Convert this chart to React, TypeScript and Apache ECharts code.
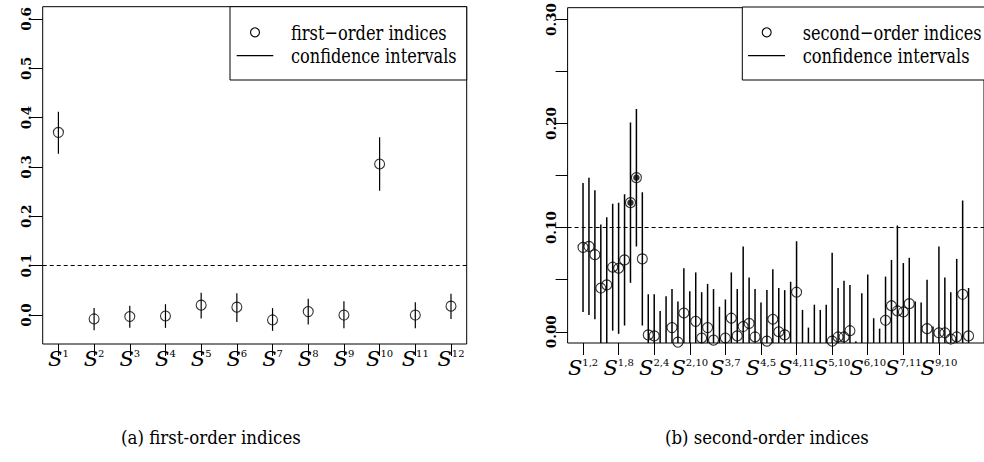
import React, { useEffect, useRef } from "react";
import * as echarts from "echarts";

// ---------- data ----------
const firstCategories = [1, 2, 3, 4, 5, 6, 7, 8, 9, 10, 11, 12];
const firstTickLabels = ["1", "2", "3", "4", "5", "6", "7", "8", "9", "10", "11", "12"];
const firstValues = [0.370, -0.008, -0.003, -0.002, 0.020, 0.016, -0.010, 0.007, 0.000, 0.306, 0.000, 0.018];
const firstLower = [0.327, -0.031, -0.026, -0.026, -0.007, -0.014, -0.032, -0.019, -0.027, 0.252, -0.027, -0.008];
const firstUpper = [0.412, 0.014, 0.019, 0.022, 0.045, 0.044, 0.014, 0.033, 0.028, 0.360, 0.026, 0.043];
const firstYTicks = [0, 0.1, 0.2, 0.3, 0.4, 0.5, 0.6];

const secondValues = [
  0.081, 0.082, 0.074, 0.042, 0.045, 0.062, 0.061, 0.069, 0.124, 0.148, 0.070,
  -0.003, -0.004, -0.020, -0.011, 0.004, -0.010, 0.018, -0.020, 0.010, -0.006,
  0.004, -0.008, -0.020, -0.006, 0.013, -0.004, 0.005, 0.008, -0.005,
  -0.020, -0.009, 0.012, 0.000, -0.003, -0.020, 0.038, -0.020,
  -0.030, -0.020, -0.020, -0.020, -0.009, -0.005, -0.005,
  0.001, -0.030, -0.012, -0.020, -0.020, -0.020,
  0.011, 0.025, 0.020, 0.019, 0.027,
  -0.016, -0.020, 0.003, -0.020,
  -0.001, -0.001, -0.007,
  -0.005, 0.036,
  -0.004,
];
const secondUpper = [
  0.143, 0.148, 0.136, 0.103, 0.110, 0.123, 0.124, 0.132, 0.201, 0.214, 0.134,
  0.036, 0.036, 0.020, 0.034, 0.041, 0.029, 0.061, 0.039, 0.057, 0.038,
  0.046, 0.041, 0.024, 0.031, 0.057, 0.041, 0.082, 0.052, 0.041,
  0.028, 0.040, 0.060, 0.042, 0.040, 0.048, 0.087, 0.021,
  0.004, 0.026, 0.021, 0.026, 0.076, 0.042, 0.049,
  0.045, -0.009, 0.037, 0.055, 0.013, 0.003,
  0.053, 0.069, 0.102, 0.066, 0.071,
  0.029, 0.028, 0.050, 0.005,
  0.082, 0.052, 0.038,
  0.070, 0.126,
  0.042,
];
const secondLower = [
  0.019, 0.016, 0.012, -0.019, -0.020, 0.001, -0.002, 0.006, 0.047, 0.082, 0.006,
  -0.042, -0.044, -0.060, -0.056, -0.033, -0.049, -0.025, -0.079, -0.037, -0.050,
  -0.038, -0.057, -0.064, -0.043, -0.031, -0.049, -0.072, -0.036, -0.051,
  -0.068, -0.058, -0.036, -0.042, -0.046, -0.088, -0.011, -0.061,
  -0.064, -0.066, -0.061, -0.066, -0.094, -0.052, -0.059,
  -0.043, -0.051, -0.061, -0.095, -0.053, -0.043,
  -0.031, -0.019, -0.062, -0.028, -0.017,
  -0.061, -0.068, -0.044, -0.045,
  -0.084, -0.054, -0.052,
  -0.080, -0.054,
  -0.050,
];
const secondHighlighted = [9, 10];
const secondTickPositions = [1, 7, 13, 19, 25, 31, 37, 43, 49, 55, 61];
const secondTickLabels = ["1,2", "1,8", "2,4", "2,10", "3,7", "4,5", "4,11", "5,10", "6,10", "7,11", "9,10"];
const secondYTicks = [0, 0.05, 0.1, 0.15, 0.2, 0.25, 0.3];
const secondYLabels = [0, 0.1, 0.2, 0.3];
const threshold = 0.1;

const SERIF = "DejaVu Serif";

function errorBar(width: number) {
  return (params: any, api: any) => {
    const x = api.value(0);
    const p1 = api.coord([x, api.value(1)]);
    const p2 = api.coord([x, api.value(2)]);
    return {
      type: "line",
      shape: { x1: p1[0], y1: p1[1], x2: p2[0], y2: p2[1] },
      style: { stroke: "#000", lineWidth: width },
    };
  };
}

const hollow = { color: "rgba(0,0,0,0)", borderColor: "#000", borderWidth: 1.1 };

function dashed() {
  return {
    silent: true,
    symbol: ["none", "none"],
    label: { show: false },
    lineStyle: { type: [4, 3], color: "#000", width: 1 },
    data: [{ yAxis: threshold }],
  };
}

let measureCtx: CanvasRenderingContext2D | null = null;
function fitScale(text: string, size: number, target: number) {
  if (!measureCtx) measureCtx = document.createElement("canvas").getContext("2d");
  if (!measureCtx) return 1;
  measureCtx.font = `${size}px "${SERIF}"`;
  const w = measureCtx.measureText(text).width;
  return w > 0 ? target / w : 1;
}

function fittedText(text: string, x: number, y: number, size: number, target: number, z = 11) {
  return {
    type: "text", x, y, z, scaleX: fitScale(text, size, target),
    style: { text, fontFamily: SERIF, fontSize: size, fill: "#000", align: "left", verticalAlign: "middle" },
  };
}

const xRich = {
  s: { fontFamily: SERIF, fontStyle: "italic", fontSize: 21, lineHeight: 22, color: "#000" },
  p: { fontFamily: SERIF, fontSize: 10, lineHeight: 10, verticalAlign: "top", color: "#000" },
};

// An x axis showing the given tick positions with S-superscript labels
function xAxisPart(gridIndex: number, min: number, max: number, values: number[], allPos: number[], allLabels: string[], margin: number) {
  return {
    type: "value", gridIndex, min, max, position: "bottom",
    axisLine: { show: false, onZero: false }, splitLine: { show: false },
    axisTick: { show: true, length: 12, customValues: values, lineStyle: { color: "#000" } },
    axisLabel: {
      customValues: values, margin,
      formatter: (v: number) => `{s|S}{p|${allLabels[allPos.indexOf(Math.round(v))]}}`,
      rich: xRich,
    },
  };
}

export default function App() {
  const ref = useRef<HTMLDivElement>(null);
  useEffect(() => {
    if (!ref.current) return;
    const chart = echarts.init(ref.current, null, { renderer: "svg" });
    const yLabel = {
      rotate: 90,
      fontFamily: SERIF,
      fontWeight: "bold",
      fontSize: 13.5,
      color: "#000",
      margin: 10,
    };
    const secondOdd = secondTickPositions.filter((_, i) => i % 2 === 0);
    const secondEven = secondTickPositions.filter((_, i) => i % 2 === 1);
    const option: any = {
      animation: false,
      grid: [
        { left: 42.7, top: 6.7, width: 424, height: 337.3, show: true, borderColor: "#000", borderWidth: 1, backgroundColor: "transparent" },
        { left: 567.6, top: 7, width: 425.4, height: 336, show: true, borderColor: "#000", borderWidth: 1, backgroundColor: "transparent" },
      ],
      xAxis: [
        xAxisPart(0, 0.56, 12.44, firstCategories, firstCategories, firstTickLabels, 4),
        xAxisPart(1, -1.6, 68.6, secondOdd, secondTickPositions, secondTickLabels, 14),
        xAxisPart(1, -1.6, 68.6, secondEven, secondTickPositions, secondTickLabels, 14),
      ],
      yAxis: [
        {
          type: "value", gridIndex: 0, min: -0.0587, max: 0.6247,
          axisLine: { show: false, onZero: false }, splitLine: { show: false },
          axisTick: { show: true, length: 12, customValues: firstYTicks, lineStyle: { color: "#000" } },
          axisLabel: { ...yLabel, customValues: firstYTicks, formatter: (v: number) => v.toFixed(1) },
        },
        {
          type: "value", gridIndex: 1, min: -0.0108, max: 0.3113,
          axisLine: { show: false, onZero: false }, splitLine: { show: false },
          axisTick: { show: true, length: 12, customValues: secondYTicks, lineStyle: { color: "#000" } },
          axisLabel: { ...yLabel, customValues: secondYLabels, formatter: (v: number) => v.toFixed(2) },
        },
      ],
      series: [
        {
          type: "custom", xAxisIndex: 0, yAxisIndex: 0, clip: true,
          renderItem: errorBar(1.2), encode: { x: 0, y: [1, 2] },
          data: firstCategories.map((x, i) => [x, firstLower[i], firstUpper[i]]),
        },
        {
          type: "scatter", xAxisIndex: 0, yAxisIndex: 0, clip: true,
          symbol: "circle", symbolSize: 10, itemStyle: hollow,
          data: firstCategories.map((x, i) => [x, firstValues[i]]),
          markLine: dashed(),
        },
        {
          type: "custom", xAxisIndex: 1, yAxisIndex: 1, clip: true,
          renderItem: errorBar(1.5), encode: { x: 0, y: [1, 2] },
          data: secondValues.map((_, i) => [i + 1, secondLower[i], secondUpper[i]]),
        },
        {
          type: "scatter", xAxisIndex: 1, yAxisIndex: 1, clip: true,
          symbol: "circle", symbolSize: 10, itemStyle: hollow,
          data: secondValues.map((v, i) => [i + 1, v]),
          markLine: dashed(),
        },
        {
          type: "scatter", xAxisIndex: 1, yAxisIndex: 1, clip: true,
          symbol: "circle", symbolSize: 6.5, itemStyle: { color: "#000" },
          data: secondHighlighted.map((p) => [p, secondValues[p - 1]]),
        },
      ],
      graphic: [
        // legend (a)
        { type: "rect", shape: { x: 230, y: 6.7, width: 236.7, height: 73.3 }, style: { fill: "#fff", stroke: "#000", lineWidth: 1 }, z: 10 },
        { type: "circle", shape: { cx: 255, cy: 32.3, r: 4.5 }, style: { fill: "none", stroke: "#000", lineWidth: 1.1 }, z: 11 },
        { type: "line", shape: { x1: 236.7, y1: 55.7, x2: 273.3, y2: 55.7 }, style: { stroke: "#000", lineWidth: 1.2 }, z: 11 },
        fittedText("first\u2212order indices", 291, 32.3, 21, 155.7),
        fittedText("confidence intervals", 291, 55.7, 21, 165.7),
        // legend (b)
        { type: "rect", shape: { x: 742.3, y: 7, width: 260, height: 73 }, style: { fill: "#fff", stroke: "#000", lineWidth: 1 }, z: 10 },
        { type: "circle", shape: { cx: 766.7, cy: 32.3, r: 4.5 }, style: { fill: "none", stroke: "#000", lineWidth: 1.1 }, z: 11 },
        { type: "line", shape: { x1: 748, y1: 55.7, x2: 785, y2: 55.7 }, style: { stroke: "#000", lineWidth: 1.2 }, z: 11 },
        fittedText("second\u2212order indices", 802.7, 32.3, 21, 179),
        fittedText("confidence intervals", 802.7, 55.7, 21, 167),
        // captions
        fittedText("(a) first-order indices", 121, 437, 19, 180, 1),
        fittedText("(b) second-order indices", 665, 437, 19, 204, 1),
      ],
    };
    chart.setOption(option);
    return () => chart.dispose();
  }, []);
  return (
    <div
      ref={ref}
      style={{ position: "fixed", left: 0, top: 0, width: 984, height: 462, background: "#fff", overflow: "hidden" }}
    />
  );
}
